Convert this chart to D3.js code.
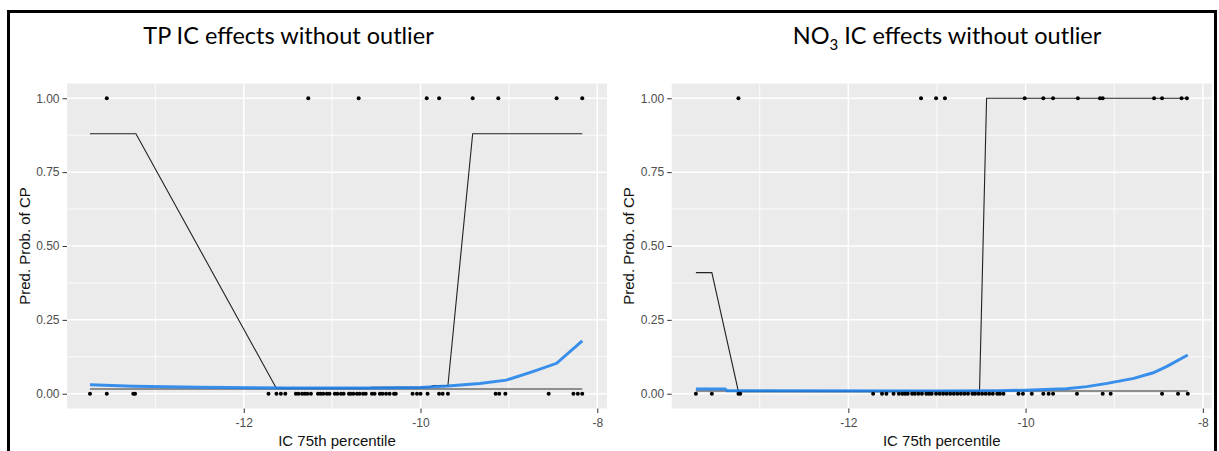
<!DOCTYPE html>
<html>
<head>
<meta charset="utf-8">
<script src="https://cdn.jsdelivr.net/npm/d3@7"></script>
<style>
  body { margin: 0; background: #fff; }
  svg { display: block; }
  .tick text { font-family: "Liberation Sans", Arial, sans-serif; font-size: 12px; fill: #4d4d4d; }
  .tick line { stroke: #333; }
  .domain { display: none; }
</style>
</head>
<body>
<div id="chart"></div>
<script>
// axis breaks
const xTicks = [-12, -10, -8];
const xMinor = [-13, -11, -9];
const yTicks = [0, 0.25, 0.5, 0.75, 1];
const yMinor = [0.125, 0.375, 0.625, 0.875];

// TP panel: observed points (CP = 1 and CP = 0)
const tpOnes = [-13.55, -11.27, -10.70, -9.93, -9.79, -9.41, -9.12, -8.46, -8.17];
const tpZeros = [-13.74, -13.55, -13.25, -13.23, -11.72, -11.63, -11.58, -11.53,
  -11.41, -11.38, -11.34, -11.31, -11.28, -11.24, -11.16, -11.13, -11.10, -11.06,
  -11.03, -10.97, -10.94, -10.90, -10.87, -10.81, -10.79, -10.76, -10.72, -10.69,
  -10.65, -10.62, -10.55, -10.52, -10.46, -10.43, -10.39, -10.35, -10.30, -10.28,
  -10.09, -10.04, -10.00, -9.92, -9.79, -9.75, -9.69, -9.15, -9.11, -9.04, -8.55,
  -8.27, -8.22, -8.17];
// TP predicted probability (black)
const tpPredX = [-13.74, -13.22, -11.63, -10.60, -10.55, -9.90, -9.85, -9.69, -9.41, -8.17];
const tpPredY = [0.88, 0.88, 0.018, 0.018, 0.022, 0.022, 0.028, 0.028, 0.88, 0.88];
const tpBase = 0.016;
// TP smooth (blue)
const tpFitX = [-13.74, -13.25, -12.5, -11.5, -10.5, -10.0, -9.69, -9.33, -9.03, -8.73, -8.46, -8.17];
const tpFitY = [0.030, 0.025, 0.022, 0.019, 0.019, 0.021, 0.026, 0.035, 0.046, 0.075, 0.103, 0.179];

// NO3 panel
const noOnes = [-13.24, -11.18, -11.01, -10.91, -10.01, -9.80, -9.69, -9.41, -9.16,
  -9.13, -8.55, -8.46, -8.24, -8.18];
const noZeros = [-13.72, -13.54, -13.24, -13.22, -11.72, -11.62, -11.57, -11.49,
  -11.43, -11.39, -11.36, -11.33, -11.28, -11.25, -11.21, -11.17, -11.12, -11.09,
  -11.06, -11.01, -10.97, -10.93, -10.89, -10.85, -10.81, -10.77, -10.73, -10.69,
  -10.65, -10.60, -10.57, -10.53, -10.49, -10.45, -10.41, -10.37, -10.32, -10.29,
  -10.25, -10.08, -10.03, -9.93, -9.80, -9.74, -9.69, -9.42, -9.13, -9.04, -8.46,
  -8.28, -8.17];
const noPredX = [-13.72, -13.54, -13.24, -10.52, -10.44, -8.18];
const noPredY = [0.41, 0.41, 0.007, 0.007, 1.0, 1.0];
const noBase = 0.009;
const noFitX = [-13.72, -13.39, -13.37, -11.0, -10.3, -10.0, -9.70, -9.54, -9.31, -9.08, -8.78, -8.56, -8.41, -8.17];
const noFitY = [0.016, 0.016, 0.010, 0.009, 0.010, 0.012, 0.015, 0.017, 0.024, 0.035, 0.052, 0.071, 0.092, 0.131];

const W = 1219, H = 451;
const svg = d3.select("#chart").append("svg").attr("width", W).attr("height", H);

// slide frame
svg.append("rect").attr("x", 8.5).attr("y", 11.5).attr("width", 1207).attr("height", 460)
  .attr("fill", "none").attr("stroke", "#000").attr("stroke-width", 3);

const yScale = d3.scaleLinear().domain([-0.05, 1.05]).range([408.5, 83.5]);

function panel(opt) {
  const x = d3.scaleLinear().domain(opt.xDomain).range(opt.xRange);
  const y = yScale;
  const g = svg.append("g");
  const [x0, x1] = opt.xRange;
  const [y1, y0] = y.range();

  g.append("rect").attr("x", x0).attr("y", y0).attr("width", x1 - x0).attr("height", y1 - y0)
    .attr("fill", "#ebebeb");

  g.selectAll(".gminx").data(xMinor).enter().append("line")
    .attr("x1", d => x(d)).attr("x2", d => x(d)).attr("y1", y0).attr("y2", y1)
    .attr("stroke", "#fff").attr("stroke-width", 0.8);
  g.selectAll(".gminy").data(yMinor).enter().append("line")
    .attr("x1", x0).attr("x2", x1).attr("y1", d => y(d)).attr("y2", d => y(d))
    .attr("stroke", "#fff").attr("stroke-width", 0.8);
  g.selectAll(".gmajx").data(xTicks).enter().append("line")
    .attr("x1", d => x(d)).attr("x2", d => x(d)).attr("y1", y0).attr("y2", y1)
    .attr("stroke", "#fff").attr("stroke-width", 1.5);
  g.selectAll(".gmajy").data(yTicks).enter().append("line")
    .attr("x1", x0).attr("x2", x1).attr("y1", d => y(d)).attr("y2", d => y(d))
    .attr("stroke", "#fff").attr("stroke-width", 1.5);

  // axes
  g.append("g").attr("transform", `translate(0,${y1})`)
    .call(d3.axisBottom(x).tickValues(xTicks).tickSize(4.5).tickPadding(5).tickFormat(d3.format("d")))
    .selectAll(".tick text").text(d => d < 0 ? "-" + Math.abs(d) : d);
  g.append("g").attr("transform", `translate(${x0},0)`)
    .call(d3.axisLeft(y).tickValues(yTicks).tickSize(4.5).tickPadding(3).tickFormat(d3.format(".2f")));

  // constant line
  const xs = opt.zeros.concat(opt.ones);
  g.append("line").attr("x1", x(d3.min(xs))).attr("x2", x(d3.max(xs)))
    .attr("y1", y(opt.base)).attr("y2", y(opt.base))
    .attr("stroke", "#333").attr("stroke-width", 1.1);

  // predicted probability
  const line = d3.line().x(d => x(d[0])).y(d => y(d[1]));
  g.append("path").datum(d3.zip(opt.predX, opt.predY)).attr("d", line)
    .attr("fill", "none").attr("stroke", "#222").attr("stroke-width", 1.1);

  // smooth
  g.append("path").datum(d3.zip(opt.fitX, opt.fitY)).attr("d", line)
    .attr("fill", "none").attr("stroke", "#1f82ea").attr("stroke-width", 3)
    .attr("stroke-opacity", 0.88);

  // points
  g.selectAll(".p1").data(opt.ones).enter().append("circle")
    .attr("cx", d => x(d)).attr("cy", y(1)).attr("r", 2).attr("fill", "#000");
  g.selectAll(".p0").data(opt.zeros).enter().append("circle")
    .attr("cx", d => x(d)).attr("cy", y(0)).attr("r", 2).attr("fill", "#000");

  // axis titles
  g.append("text").attr("x", (x0 + x1) / 2).attr("y", 446)
    .attr("text-anchor", "middle")
    .style("font-family", "Liberation Sans, Arial, sans-serif").style("font-size", "15px").style("fill", "#111")
    .text("IC 75th percentile");
  g.append("text").attr("transform", `translate(${opt.ylabX},${(y0 + y1) / 2}) rotate(-90)`)
    .attr("text-anchor", "middle")
    .style("font-family", "Liberation Sans, Arial, sans-serif").style("font-size", "15px").style("fill", "#111")
    .text("Pred. Prob. of CP");

  // title
  const t = svg.append("text").attr("x", opt.titleX).attr("y", 44)
    .attr("text-anchor", "middle")
    .style("font-family", "Lato, 'Open Sans', sans-serif").style("font-size", "23.5px").style("fill", "#000");
  opt.title(t);
}

panel({
  xDomain: [-14.0, -7.89], xRange: [67, 607],
  ones: tpOnes, zeros: tpZeros, predX: tpPredX, predY: tpPredY, base: tpBase,
  fitX: tpFitX, fitY: tpFitY, ylabX: 30, titleX: 288.5,
  title: t => t.text("TP IC effects without outlier")
});
panel({
  xDomain: [-13.993, -7.90], xRange: [671.7, 1211.7],
  ones: noOnes, zeros: noZeros, predX: noPredX, predY: noPredY, base: noBase,
  fitX: noFitX, fitY: noFitY, ylabX: 634, titleX: 947,
  title: t => {
    t.append("tspan").text("NO");
    t.append("tspan").attr("dy", 6).style("font-size", "15px").text("3");
    t.append("tspan").attr("dy", -6).text(" IC effects without outlier");
  }
});
</script>
</body>
</html>
